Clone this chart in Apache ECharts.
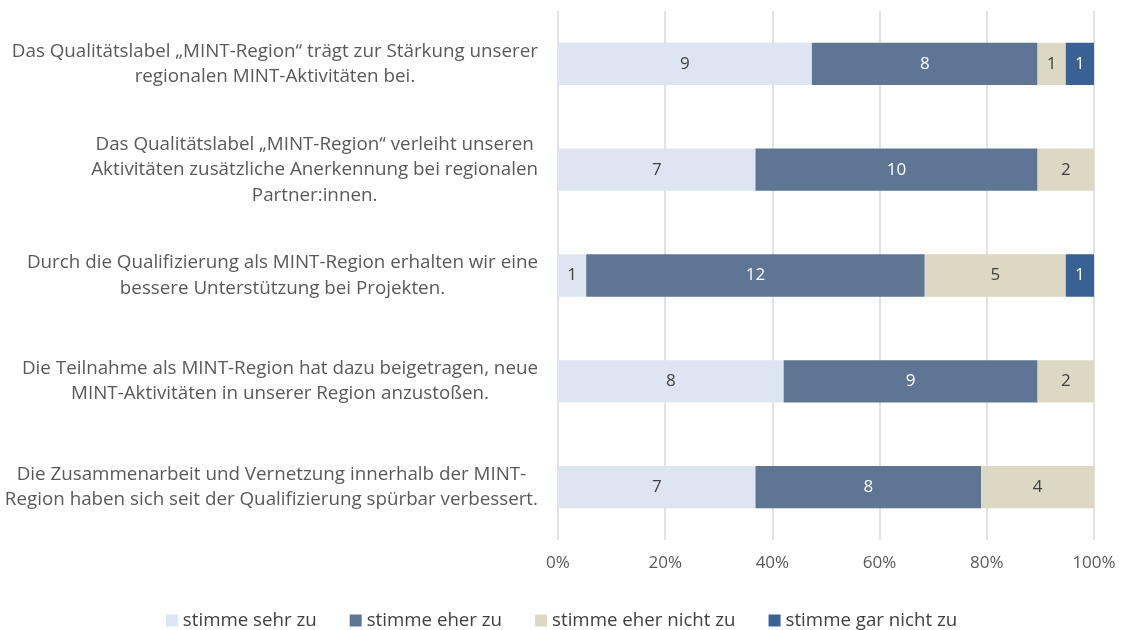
<!DOCTYPE html>
<html>
<head>
<meta charset="utf-8">
<script src="https://cdn.jsdelivr.net/npm/echarts@6/dist/echarts.min.js"></script>
<style>
  html, body { margin: 0; padding: 0; background: #ffffff; }
  #chart { width: 1123px; height: 630px; }
</style>
</head>
<body>
<div id="chart"></div>
<script>
// Statements (top to bottom), line breaks as shown in the axis labels
const categories = [
  'Das Qualitätslabel „MINT-Region“ trägt zur Stärkung unserer\nregionalen MINT-Aktivitäten bei.',
  'Das Qualitätslabel „MINT-Region“ verleiht unseren\nAktivitäten zusätzliche Anerkennung bei regionalen\nPartner:innen.',
  'Durch die Qualifizierung als MINT-Region erhalten wir eine\nbessere Unterstützung bei Projekten.',
  'Die Teilnahme als MINT-Region hat dazu beigetragen, neue\nMINT-Aktivitäten in unserer Region anzustoßen.',
  'Die Zusammenarbeit und Vernetzung innerhalb der MINT-\nRegion haben sich seit der Qualifizierung spürbar verbessert.'
];

// Answer counts per statement
const seriesNames = ['stimme sehr zu', 'stimme eher zu', 'stimme eher nicht zu', 'stimme gar nicht zu'];
const sehrZu      = [9, 7, 1, 8, 7];
const eherZu      = [8, 10, 12, 9, 8];
const eherNicht   = [1, 2, 5, 2, 4];
const garNicht    = [1, 0, 1, 0, 0];

const xTickLabels = ['0%', '20%', '40%', '60%', '80%', '100%'];

const colors = ['#dce5f1', '#5e7694', '#ddd8c3', '#3a6193'];
const labelColors = ['#404040', '#ffffff', '#404040', '#ffffff'];
const fontFamily = '"Open Sans", "Noto Sans", sans-serif';

const counts = [sehrZu, eherZu, eherNicht, garNicht];
const totals = categories.map((_, i) => counts.reduce((s, arr) => s + arr[i], 0));

const series = counts.map((arr, si) => ({
  name: seriesNames[si],
  type: 'bar',
  stack: 'total',
  barWidth: '40%',
  itemStyle: { color: colors[si] },
  label: {
    show: true,
    position: 'inside',
    color: labelColors[si],
    fontFamily: fontFamily,
    fontSize: 17,
    formatter: p => (p.data.count ? String(p.data.count) : '')
  },
  data: arr.map((c, i) => ({ value: c / totals[i] * 100, count: c }))
}));

const chart = echarts.init(document.getElementById('chart'), null, { renderer: 'canvas' });
chart.setOption({
  animation: false,
  backgroundColor: '#ffffff',
  grid: {
    left: 558, right: 29, top: 11, bottom: 90,
    containLabel: false,
    outerBoundsMode: 'none'
  },
  legend: {
    top: 606,
    left: 'center',
    itemWidth: 12,
    itemHeight: 12,
    itemGap: 33,
    icon: 'rect',
    textStyle: { color: '#404040', fontSize: 18.7, fontFamily: fontFamily },
    data: seriesNames
  },
  xAxis: {
    type: 'value',
    min: 0,
    max: 100,
    interval: 20,
    axisLine: { show: false },
    axisTick: { show: false },
    splitLine: { show: true, lineStyle: { color: '#d9d9d9', width: 1.5 } },
    axisLabel: {
      color: '#595959',
      fontSize: 17,
      fontFamily: fontFamily,
      margin: 15,
      formatter: v => xTickLabels[Math.round(v / 20)]
    }
  },
  yAxis: {
    type: 'category',
    inverse: true,
    data: categories,
    axisLine: { show: false },
    axisTick: { show: false },
    axisLabel: {
      margin: 20,
      formatter: v => v.split('\n').map(l => '{c|' + l + '}').join('\n'),
      rich: {
        c: {
          align: 'center',
          color: '#595959',
          fontSize: 18.8,
          lineHeight: 25.5,
          fontFamily: fontFamily
        }
      }
    }
  },
  series: series
});
</script>
</body>
</html>
